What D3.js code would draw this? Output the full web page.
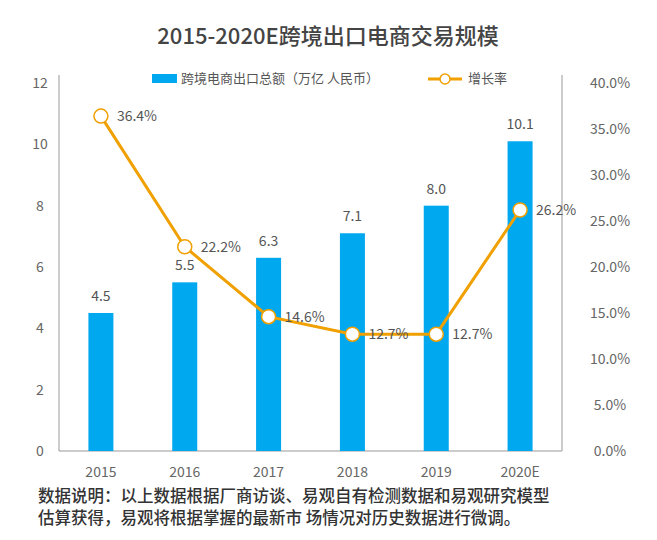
<!DOCTYPE html>
<html>
<head>
<meta charset="utf-8">
<script src="https://cdn.jsdelivr.net/npm/d3@7"></script>
<style>
  body { margin: 0; background: #fff; }
  text { font-family: "Noto Sans CJK SC", "Noto Sans", sans-serif; }
</style>
</head>
<body>
<svg id="svg" width="657" height="540"></svg>
<script>
  const years = ["2015", "2016", "2017", "2018", "2019", "2020E"];
  const amounts = [4.5, 5.5, 6.3, 7.1, 8.0, 10.1];
  const growth = [36.4, 22.2, 14.6, 12.7, 12.7, 26.2];
  const leftTicks = [0, 2, 4, 6, 8, 10, 12];
  const rightTicks = [0, 5, 10, 15, 20, 25, 30, 35, 40];

  const svg = d3.select("#svg");
  const plotL = 59, plotR = 562, plotT = 83, plotB = 451;
  const gray = "#666", blue = "#00a8f0", orange = "#f0a000";
  const barW = 25;

  const x = d3.scaleBand().domain(years).range([plotL, plotR]);
  const y = d3.scaleLinear().domain([0, 12]).range([plotB, plotT]);
  const y2 = d3.scaleLinear().domain([0, 40]).range([plotB, plotT]);
  const cx = d => x(d) + x.bandwidth() / 2;

  svg.append("text").attr("x", 328).attr("y", 44).attr("text-anchor", "middle")
    .attr("font-size", 22).attr("font-weight", 500).attr("fill", "#444")
    .text("2015-2020E跨境出口电商交易规模");

  // axes lines
  svg.append("line").attr("x1", plotL).attr("x2", plotL).attr("y1", plotT - 8).attr("y2", plotB).attr("stroke", "#999");
  svg.append("line").attr("x1", plotR).attr("x2", plotR).attr("y1", plotT - 8).attr("y2", plotB).attr("stroke", "#999");
  svg.append("line").attr("x1", plotL).attr("x2", plotR).attr("y1", plotB).attr("y2", plotB).attr("stroke", "#999");

  svg.selectAll(".lt").data(leftTicks).join("text")
    .attr("x", 40).attr("y", d => y(d) + 5).attr("text-anchor", "middle")
    .attr("font-size", 14).attr("fill", gray).text(d => d);
  svg.selectAll(".rt").data(rightTicks).join("text")
    .attr("x", 610).attr("y", d => y2(d) + 5).attr("text-anchor", "middle")
    .attr("font-size", 14).attr("fill", gray).text(d => d.toFixed(1) + "%");
  svg.selectAll(".xt").data(years).join("text")
    .attr("x", cx).attr("y", plotB + 26).attr("text-anchor", "middle")
    .attr("font-size", 14).attr("fill", gray).text(d => d);

  // bars
  svg.selectAll(".bar").data(amounts).join("rect")
    .attr("x", (d, i) => cx(years[i]) - barW / 2).attr("width", barW)
    .attr("y", d => y(d)).attr("height", d => plotB - y(d)).attr("fill", blue);
  svg.selectAll(".bl").data(amounts).join("text")
    .attr("x", (d, i) => cx(years[i])).attr("y", d => y(d) - 12)
    .attr("text-anchor", "middle").attr("font-size", 14).attr("fill", "#555")
    .text(d => d.toFixed(1));

  // growth line
  const line = d3.line().x((d, i) => cx(years[i])).y(d => y2(d));
  svg.append("path").attr("d", line(growth)).attr("fill", "none")
    .attr("stroke", orange).attr("stroke-width", 3);
  svg.selectAll(".pt").data(growth).join("circle")
    .attr("cx", (d, i) => cx(years[i])).attr("cy", d => y2(d)).attr("r", 7)
    .attr("fill", "#fff").attr("stroke", orange).attr("stroke-width", 1.5);
  svg.selectAll(".gl").data(growth).join("text")
    .attr("x", (d, i) => cx(years[i]) + 16).attr("y", d => y2(d) + 5)
    .attr("font-size", 14).attr("fill", "#555").text(d => d.toFixed(1) + "%");

  // legend
  svg.append("rect").attr("x", 152).attr("y", 74).attr("width", 25).attr("height", 9).attr("fill", blue);
  svg.append("text").attr("x", 181).attr("y", 83).attr("font-size", 13).attr("fill", "#555")
    .text("跨境电商出口总额（万亿 人民币）");
  svg.append("line").attr("x1", 428).attr("x2", 462).attr("y1", 79).attr("y2", 79).attr("stroke", orange).attr("stroke-width", 3);
  svg.append("circle").attr("cx", 445).attr("cy", 79).attr("r", 5).attr("fill", "#fff").attr("stroke", orange).attr("stroke-width", 1.5);
  svg.append("text").attr("x", 468).attr("y", 83).attr("font-size", 13).attr("fill", "#555").text("增长率");

  // note
  const notes = ["数据说明：以上数据根据厂商访谈、易观自有检测数据和易观研究模型",
                 "估算获得，易观将根据掌握的最新市 场情况对历史数据进行微调。"];
  svg.selectAll(".note").data(notes).join("text")
    .attr("x", 38).attr("y", (d, i) => 502 + i * 22)
    .attr("font-size", 16.5).attr("font-weight", 500).attr("fill", "#333").text(d => d);
</script>
</body>
</html>
